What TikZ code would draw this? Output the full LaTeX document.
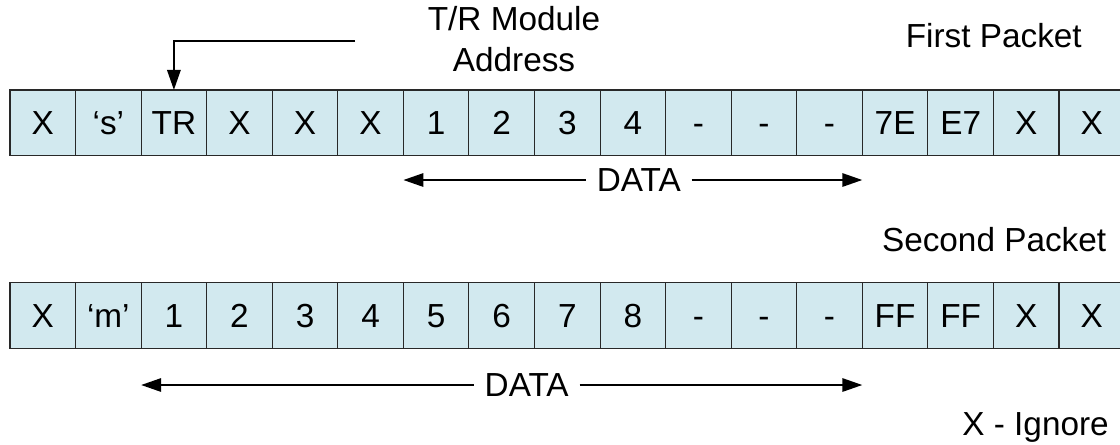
\documentclass[tikz,border=0pt]{standalone}
\usepackage{fontspec}
\setmainfont{Liberation Sans}
\usetikzlibrary{arrows.meta}
\definecolor{cellfill}{RGB}{210,233,239}
\definecolor{cellline}{RGB}{40,40,40}
\begin{document}
\begin{tikzpicture}[x=0.75pt,y=-0.75pt,
  every node/.style={font=\fontsize{25}{30.75}\selectfont},
  cell/.style={draw=cellline, line width=0.8pt, fill=cellfill,
    minimum width=49.17pt, minimum height=49.3pt, inner sep=0pt, outer sep=0pt,
    text height=17.9pt, text depth=0pt},
  lbl/.style={inner sep=0pt, text height=17.9pt, text depth=0pt},
  datalbl/.style={inner xsep=8pt, inner ysep=0pt, text height=17.9pt, text depth=0pt},
  conn/.style={line width=1.5pt, -{Triangle[length=15pt,width=10pt]}},
]
\clip (0,0) rectangle (1120,444);
% first packet
\foreach \t [count=\i from 0] in {X,{‘s’},TR,X,X,X,1,2,3,4,-,-,-,7E,E7,X,X}
  \node[cell] (r1c\i) at ({10+65.5625*(\i+0.5)},122.85) {\t};
% second packet
\foreach \t [count=\i from 0] in {X,{‘m’},1,2,3,4,5,6,7,8,-,-,-,FF,FF,X,X}
  \node[cell] (r2c\i) at ({10+65.5625*(\i+0.5)},315.5) {\t};
% T/R module address
\node[inner sep=0pt, align=center] (trm) at (514,39.5) {T/R Module\\Address};
\coordinate (tr) at (355,41.3);
\draw[conn] (tr) -| (r1c2.north);
% labels
\node[lbl, anchor=east] (fp) at (1082,35.5) {First Packet};
\node[lbl, anchor=east] (sp) at (1106.5,240) {Second Packet};
\node[lbl, anchor=east] (xi) at (1109,423.3) {X - Ignore};
% data arrows
\node[datalbl] (d1) at (638.8,180) {DATA};
\coordinate (d1l) at (r1c6.west |- d1.center);
\coordinate (d1r) at (r1c12.east |- d1.center);
\draw[conn] (d1.west) -- (d1l);
\draw[conn] (d1.east) -- (d1r);
\node[datalbl] (d2) at (526.7,385) {DATA};
\coordinate (d2l) at (r2c2.west |- d2.center);
\coordinate (d2r) at (r2c12.east |- d2.center);
\draw[conn] (d2.west) -- (d2l);
\draw[conn] (d2.east) -- (d2r);
\end{tikzpicture}
\end{document}
